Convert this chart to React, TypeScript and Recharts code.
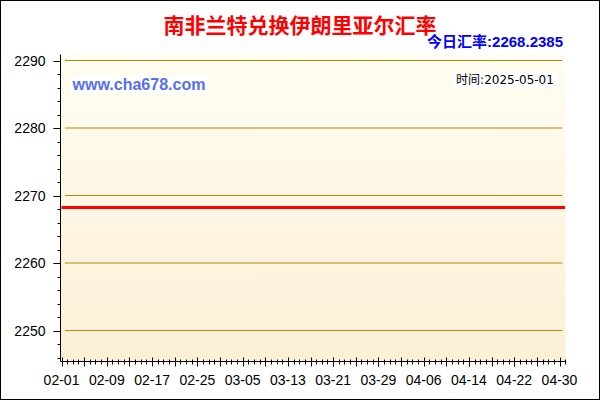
import React from 'react';
import { LineChart, Line, XAxis, YAxis, CartesianGrid, ReferenceLine } from 'recharts';

// 02-01 .. 05-01, one value per day (day index = position in array)
const rates = [
  2268.2385, 2268.2385, 2268.2385, 2268.2385, 2268.2385, 2268.2385, 2268.2385, 2268.2385, 2268.2385, 2268.2385,
  2268.2385, 2268.2385, 2268.2385, 2268.2385, 2268.2385, 2268.2385, 2268.2385, 2268.2385, 2268.2385, 2268.2385,
  2268.2385, 2268.2385, 2268.2385, 2268.2385, 2268.2385, 2268.2385, 2268.2385, 2268.2385, 2268.2385, 2268.2385,
  2268.2385, 2268.2385, 2268.2385, 2268.2385, 2268.2385, 2268.2385, 2268.2385, 2268.2385, 2268.2385, 2268.2385,
  2268.2385, 2268.2385, 2268.2385, 2268.2385, 2268.2385, 2268.2385, 2268.2385, 2268.2385, 2268.2385, 2268.2385,
  2268.2385, 2268.2385, 2268.2385, 2268.2385, 2268.2385, 2268.2385, 2268.2385, 2268.2385, 2268.2385, 2268.2385,
  2268.2385, 2268.2385, 2268.2385, 2268.2385, 2268.2385, 2268.2385, 2268.2385, 2268.2385, 2268.2385, 2268.2385,
  2268.2385, 2268.2385, 2268.2385, 2268.2385, 2268.2385, 2268.2385, 2268.2385, 2268.2385, 2268.2385, 2268.2385,
  2268.2385, 2268.2385, 2268.2385, 2268.2385, 2268.2385, 2268.2385, 2268.2385, 2268.2385, 2268.2385, 2268.2385,
];

const dateLabels = ['02-01', '02-09', '02-17', '02-25', '03-05', '03-13', '03-21', '03-29', '04-06', '04-14', '04-22', '04-30'];
const labelDays = [0, 8, 16, 24, 32, 40, 48, 56, 64, 72, 80, 88];
const yLabels = [2250, 2260, 2270, 2280, 2290];

const data = rates.map((rate, day) => ({ day, rate }));
const dayTicks = data.map((d) => d.day);
const yTicks = Array.from({ length: 23 }, (_, i) => 2246 + i * 2);

const xDomain: [number, number] = [-0.18, 89.06];
const yDomain: [number, number] = [2245.41, 2290.89];

const tickFont = '"Liberation Sans", Arial, sans-serif';

const BottomTick = (props: any) => {
  const { x, y, payload } = props;
  const d = payload.value;
  const major = d % 4 === 0;
  const idx = labelDays.indexOf(d);
  const px = Math.round(x) + 0.5;
  return (
    <g>
      <line x1={px} x2={px} y1={y - (major ? 4 : 2)} y2={y + (major ? 5 : 3)} stroke="#000" />
      {idx >= 0 && (
        <text x={x} y={y + 23} textAnchor="middle" fontSize={14} fill="#000" fontFamily={tickFont}>
          {dateLabels[idx]}
        </text>
      )}
    </g>
  );
};

const TopTick = (props: any) => {
  const { x, y } = props;
  const px = Math.round(x) + 0.5;
  return <line x1={px} x2={px} y1={y} y2={y + 4} stroke="#000" />;
};

const LeftTick = (props: any) => {
  const { x, y, payload } = props;
  const v = payload.value;
  const major = yLabels.includes(v);
  const py = Math.round(y) + 0.5;
  return (
    <g>
      <line x1={x - (major ? 7 : 3)} x2={x} y1={py} y2={py} stroke="#000" />
      {major && (
        <text x={x - 15} y={y + 5} textAnchor="end" fontSize={14} fill="#000" fontFamily={tickFont}>
          {v}
        </text>
      )}
    </g>
  );
};

const RightTick = (props: any) => {
  const { x, y } = props;
  const py = Math.round(y) + 0.5;
  return <line x1={x - 4} x2={x} y1={py} y2={py} stroke="#000" />;
};

const App = () => {
  return (
    <div style={{ position: 'absolute', left: 0, top: 0, width: 600, height: 400, background: '#fff', overflow: 'hidden' }}>
      <svg width={0} height={0} style={{ position: 'absolute' }}>
        <defs>
          <linearGradient id="plotBg" x1="0" y1="0" x2="0" y2="1">
            <stop offset="0%" stopColor="#fffdf1" />
            <stop offset="100%" stopColor="#fcf0d6" />
          </linearGradient>
        </defs>
      </svg>

      <LineChart width={600} height={400} data={data} margin={{ top: 54.5, right: 34.5, bottom: 0, left: 0 }}>
        <CartesianGrid horizontal={false} vertical={false} fill="url(#plotBg)" />
        <XAxis
          dataKey="day"
          type="number"
          domain={xDomain}
          allowDataOverflow
          ticks={dayTicks}
          interval={0}
          height={38.5}
          tickSize={0}
          tickMargin={0}
          tickLine={false}
          tick={<BottomTick />}
          axisLine={{ stroke: '#000' }}
        />
        <XAxis
          xAxisId="top"
          orientation="top"
          dataKey="day"
          type="number"
          domain={xDomain}
          allowDataOverflow
          ticks={dayTicks}
          interval={0}
          height={0}
          tickSize={0}
          tickMargin={0}
          tickLine={false}
          tick={<TopTick />}
          axisLine={{ stroke: '#000' }}
        />
        <YAxis
          type="number"
          domain={yDomain}
          allowDataOverflow
          ticks={yTicks}
          interval={0}
          width={60.5}
          tickSize={0}
          tickMargin={0}
          tickLine={false}
          tick={<LeftTick />}
          axisLine={{ stroke: '#000' }}
        />
        <YAxis
          yAxisId="right"
          orientation="right"
          type="number"
          domain={yDomain}
          allowDataOverflow
          ticks={yTicks}
          interval={0}
          width={0}
          tickSize={0}
          tickMargin={0}
          tickLine={false}
          tick={<RightTick />}
          axisLine={{ stroke: '#000' }}
        />
        {yLabels.map((v) => (
          <ReferenceLine
            key={v}
            segment={[{ x: 0.6, y: v }, { x: 88.5, y: v }]}
            stroke="#b8860b"
            strokeWidth={1}
          />
        ))}
        <Line
          type="linear"
          dataKey="rate"
          stroke="#ff0000"
          strokeWidth={3}
          dot={false}
          activeDot={false}
          isAnimationActive={false}
        />
      </LineChart>

      <div
        style={{
          position: 'absolute', left: 0, top: 12, width: 600, height: 24, lineHeight: '24px',
          textAlign: 'center', color: '#ff0000', fontWeight: 'bold', fontSize: 21,
          fontFamily: '"Noto Sans CJK SC", sans-serif',
        }}
      >
        南非兰特兑换伊朗里亚尔汇率
      </div>
      <div
        style={{
          position: 'absolute', right: 37, top: 33, height: 17, lineHeight: '17px',
          color: '#0000ff', fontWeight: 'bold', fontSize: 15,
          fontFamily: '"Liberation Sans", "Noto Sans CJK SC", sans-serif', whiteSpace: 'nowrap',
        }}
      >
        今日汇率:2268.2385
      </div>
      <div
        style={{
          position: 'absolute', left: 70, top: 76, width: 138, height: 18, lineHeight: '18px',
          background: '#fff', color: '#5570ee', fontWeight: 'bold', fontSize: 16, textAlign: 'center',
          fontFamily: '"Liberation Sans", Arial, sans-serif', whiteSpace: 'nowrap',
        }}
      >
        www.cha678.com
      </div>
      <div
        style={{
          position: 'absolute', left: 452, top: 73, width: 106, height: 15, lineHeight: '15px',
          background: '#fff', color: '#000', fontSize: 12, textAlign: 'center',
          fontFamily: '"DejaVu Sans", "Noto Sans CJK SC", sans-serif', whiteSpace: 'nowrap',
        }}
      >
        时间:2025-05-01
      </div>
      <div
        style={{
          position: 'absolute', left: 0, top: 0, width: 600, height: 400, boxSizing: 'border-box',
          border: '1px solid #000', pointerEvents: 'none',
        }}
      />
    </div>
  );
};

export default App;
